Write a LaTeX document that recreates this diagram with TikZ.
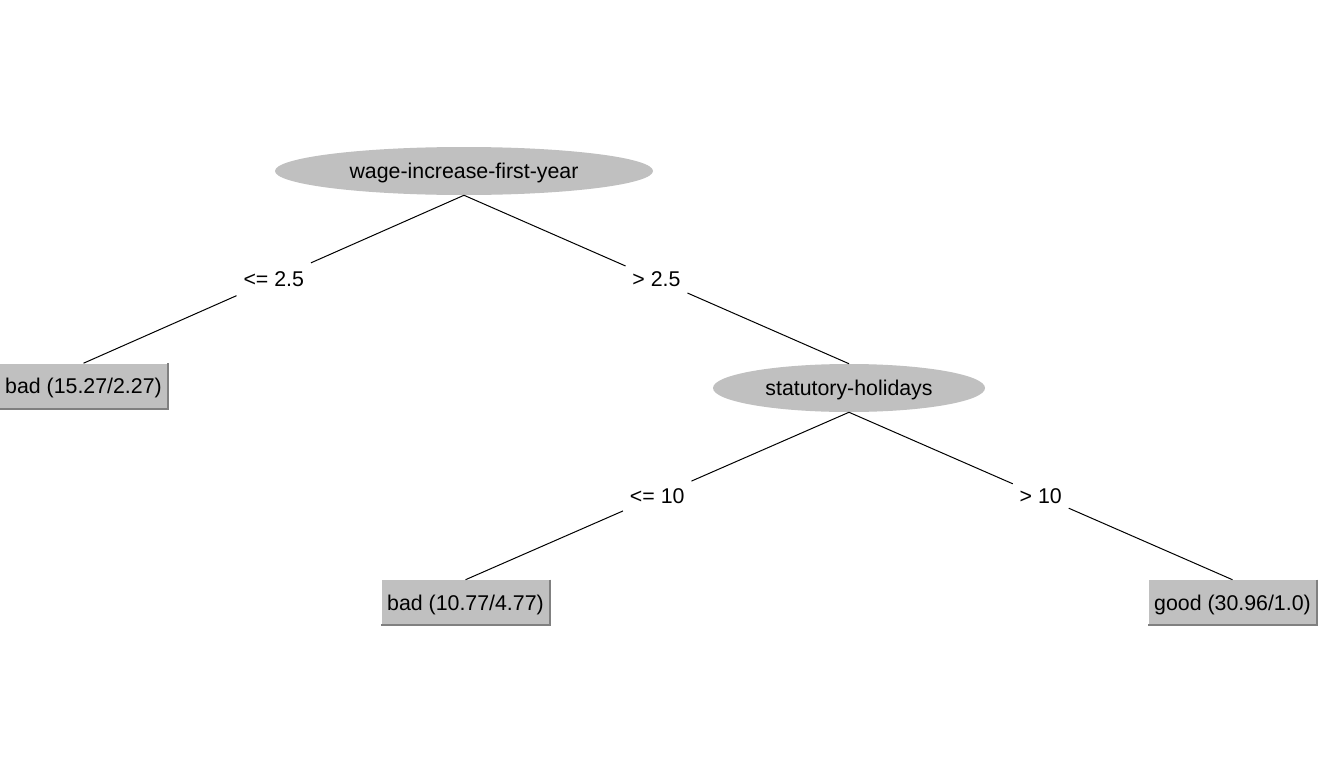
\documentclass[tikz,border=0pt]{standalone}
\usepackage{fontspec}
\setmainfont{Liberation Sans}
\usetikzlibrary{shapes.geometric,calc}
\definecolor{nodegray}{HTML}{C0C0C0}
\definecolor{edgegray}{HTML}{808080}
\begin{document}
\begin{tikzpicture}[x=0.75pt,y=-0.75pt,
  every node/.style={font=\fontsize{16}{19}\selectfont,text depth=0pt},
  split/.style={ellipse,fill=nodegray,inner sep=0pt,minimum height=36pt},
  leaf/.style={rectangle,fill=nodegray,inner sep=0pt,minimum width=126pt,minimum height=33.75pt},
  lbl/.style={rectangle,inner xsep=5pt,inner ysep=0pt,minimum height=25.5pt},
  conn/.style={draw=black,line width=0.75pt},
  shadowedge/.style={draw=edgegray,line width=1.2pt}]
\useasboundingbox (0,0) rectangle (1329,771);
\fill[white] (0,0) rectangle (1329,771);

\node[split,minimum width=283.5pt] (root) at (464,171) {wage-increase-first-year};
\node[split,minimum width=204pt] (stat) at (849,388) {statutory-holidays};
\node[leaf] (b1) at (83.5,386) {bad (15.27/2.27)};
\node[leaf] (b2) at (465.5,602.5) {bad (10.77/4.77)};
\node[leaf] (g1) at (1232.5,602.5) {good (30.96/1.0)};

\foreach \n in {b1,b2,g1}{
  \draw[shadowedge] (\n.north east) -- (\n.south east) -- (\n.south west);
}

\node[lbl] (l1) at ($(root.south)!0.5!(b1.north)$) {<= 2.5};
\node[lbl] (l2) at ($(root.south)!0.5!(stat.north)$) {> 2.5};
\node[lbl] (l3) at ($(stat.south)!0.5!(b2.north)$) {<= 10};
\node[lbl] (l4) at ($(stat.south)!0.5!(g1.north)$) {> 10};

\draw[conn] (root.south) -- (l1) (l1) -- (b1.north);
\draw[conn] (root.south) -- (l2) (l2) -- (stat.north);
\draw[conn] (stat.south) -- (l3) (l3) -- (b2.north);
\draw[conn] (stat.south) -- (l4) (l4) -- (g1.north);
\end{tikzpicture}
\end{document}
